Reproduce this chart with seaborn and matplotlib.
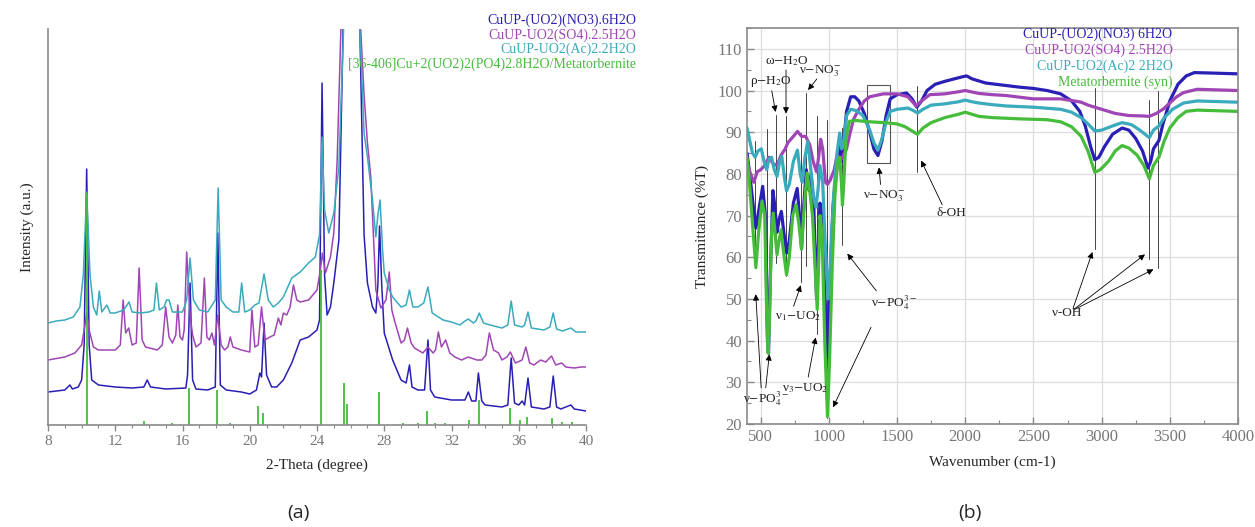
import matplotlib
matplotlib.use("Agg")
import matplotlib.pyplot as plt
import seaborn as sns
import pandas as pd
from matplotlib.patches import Rectangle
from matplotlib.ticker import MultipleLocator

# ---------------- (a) XRD data ----------------
xrd_no3_x = [8.0, 8.5, 9.0, 9.3, 9.45, 9.8, 10.0, 10.15, 10.3, 10.45, 10.6, 11.0, 12.0, 13.0, 13.7, 13.9, 14.1, 15.0,
             16.2, 16.3, 16.45, 16.6, 16.8, 17.5, 17.95, 18.1, 18.25, 18.6, 19.5, 20.0, 20.4, 20.6, 20.7, 20.85, 21.0,
             21.3, 21.6, 22.0, 22.5, 23.0, 23.5, 24.0, 24.15, 24.3, 24.45, 24.6, 24.8, 25.0, 25.3, 25.55, 26.05, 26.55,
             26.8, 27.0, 27.3, 27.5, 27.62, 27.72, 27.85, 28.0, 28.5, 29.0, 29.3, 29.5, 29.65, 30.0, 30.4, 30.6, 30.75,
             31.0, 32.0, 32.8, 33.0, 33.2, 33.45, 33.6, 33.8, 34.0, 35.0, 35.35, 35.55, 35.75, 36.0, 36.2, 36.35, 36.55,
             36.75, 37.5, 37.85, 38.05, 38.25, 38.5, 39.1, 39.3, 40.0]
xrd_no3_y = [33, 34, 35, 40, 36, 38, 45, 80, 256, 80, 45, 40, 38, 37, 38, 45, 38, 36,
             37, 50, 142, 45, 36, 35, 38, 192, 40, 35, 33, 31, 35, 52, 48, 102, 50,
             38, 38, 45, 62, 85, 88, 95, 105, 342, 150, 110, 118, 142, 185, 395, 700, 395,
             190, 142, 118, 112, 140, 199, 140, 92, 65, 45, 42, 60, 38, 35, 35, 85, 35,
             28, 25, 25, 33, 24, 24, 52, 24, 20, 18, 20, 67, 22, 20, 24, 20, 47,
             18, 16, 18, 49, 18, 16, 20, 16, 14]

xrd_so4_x = [8.0, 9.0, 9.6, 10.0, 10.2, 10.3, 10.45, 10.7, 11.0, 12.0, 12.3, 12.47, 12.62, 12.8, 13.0, 13.25, 13.42,
             13.6, 13.8, 14.5, 14.8, 15.0, 15.2, 15.4, 15.6, 15.72, 15.85, 16.0, 16.1, 16.25, 16.45, 16.6, 16.8, 17.1,
             17.3, 17.45, 17.6, 17.75, 17.9, 18.1, 18.3, 18.5, 18.7, 18.84, 19.0, 19.5, 20.0, 20.13, 20.3, 20.5, 20.7,
             20.9, 21.2, 21.45, 21.7, 21.85, 22.0, 22.2, 22.4, 22.6, 22.8, 23.0, 23.5, 24.0, 24.2, 24.32, 24.5, 24.8,
             25.0, 25.2, 25.42, 26.0, 26.6, 26.8, 27.0, 27.2, 27.5, 27.8, 28.1, 28.3, 28.45, 28.6, 29.0, 29.2, 29.38,
             29.6, 29.8, 30.3, 30.6, 30.9, 31.05, 31.22, 31.4, 31.65, 31.9, 32.2, 32.6, 33.0, 33.5, 33.8, 34.05, 34.25,
             34.5, 34.8, 35.0, 35.3, 35.5, 35.8, 36.2, 36.42, 36.65, 36.9, 37.3, 37.6, 37.95, 38.2, 38.55, 38.8, 39.3,
             39.7, 40.0]
xrd_so4_y = [65, 68, 72, 80, 100, 112, 95, 78, 75, 75, 80, 125, 92, 97, 80, 82, 157,
             85, 78, 75, 80, 118, 88, 82, 90, 120, 88, 85, 95, 173, 110, 90, 78, 82,
             147, 88, 85, 92, 80, 110, 80, 75, 78, 88, 78, 75, 73, 115, 78, 80, 118,
             85, 88, 90, 107, 100, 112, 110, 118, 140, 125, 123, 125, 135, 155, 172, 152, 168,
             192, 265, 395, 700, 395, 330, 282, 248, 135, 117, 125, 153, 115, 105, 82, 85, 97,
             82, 77, 72, 78, 72, 75, 93, 78, 85, 72, 68, 65, 68, 65, 65, 70, 92,
             75, 72, 65, 68, 73, 62, 65, 78, 62, 60, 65, 63, 69, 60, 62, 58, 57,
             58, 58]

xrd_ac_x = [8.0, 8.5, 9.0, 9.5, 9.9, 10.1, 10.3, 10.5, 10.7, 10.9, 11.05, 11.2, 11.5, 11.7, 12.0, 12.5, 12.82, 13.0,
            13.5, 14.0, 14.3, 14.45, 14.62, 14.9, 15.05, 15.2, 15.4, 16.0, 16.25, 16.45, 16.65, 17.0, 17.5, 17.95,
            18.12, 18.3, 18.6, 19.0, 19.35, 19.52, 19.7, 20.0, 20.3, 20.55, 20.85, 21.1, 21.4, 21.7, 22.0, 22.5, 23.0,
            23.5, 23.9, 24.15, 24.3, 24.45, 24.7, 25.0, 25.3, 25.58, 26.05, 26.55, 26.8, 27.0, 27.3, 27.5, 27.62,
            27.75, 27.9, 28.0, 28.3, 28.5, 29.0, 29.3, 29.5, 29.7, 30.0, 30.35, 30.6, 30.85, 31.5, 32.0, 32.5, 32.8,
            33.0, 33.3, 33.45, 33.65, 33.9, 34.3, 35.0, 35.35, 35.55, 35.75, 36.2, 36.35, 36.55, 36.75, 37.5, 37.85,
            38.05, 38.25, 38.6, 39.1, 39.4, 40.0]
xrd_ac_y = [102, 104, 105, 108, 118, 150, 233, 150, 118, 110, 134, 113, 120, 112, 112, 115, 123, 113,
            112, 113, 115, 142, 115, 118, 125, 125, 113, 113, 125, 167, 125, 115, 113, 125,
            237, 125, 118, 113, 113, 142, 113, 115, 120, 122, 151, 125, 118, 122, 128, 147, 153,
            162, 168, 190, 288, 215, 192, 212, 258, 395, 700, 395, 292, 268, 225, 188, 210,
            225, 175, 152, 135, 128, 118, 120, 135, 118, 118, 122, 138, 112, 105, 103, 100, 104,
            106, 102, 104, 112, 102, 100, 97, 100, 124, 100, 98, 100, 113, 97, 95, 98,
            112, 96, 94, 97, 93, 93]

ref_pos = [10.3, 13.72, 15.38, 16.38, 18.04, 18.82, 20.51, 20.79, 24.25, 25.62, 25.77, 27.66, 29.1, 29.98, 30.52,
           31.0, 31.6, 33.04, 33.63, 35.5, 36.05, 36.47, 37.98, 38.6, 39.15]
ref_int = [232, 4, 2, 37, 35, 2, 19, 12, 155, 42, 21, 33, 2, 2, 14, 2, 2, 5, 25, 17, 5, 8, 7, 3, 3]

xrd_labels = ["CuUP-(UO2)(NO3).6H2O", "CuUP-UO2(SO4).2.5H2O", "CuUP-UO2(Ac)2.2H2O",
              "[36-406]Cu+2(UO2)2(PO4)2.8H2O/Metatorbernite"]

# ---------------- (b) FTIR data ----------------
ir_no3_x = [400, 420, 440, 465, 490, 515, 535, 550, 558, 570, 590, 605, 620, 635, 652, 670, 690, 710, 740, 768, 785,
            800, 815, 835, 855, 870, 890, 910, 920, 935, 950, 970, 990, 1005, 1030, 1060, 1080, 1095, 1110, 1130, 1160,
            1190, 1220, 1260, 1300, 1330, 1360, 1390, 1420, 1450, 1500, 1570, 1610, 1645, 1680, 1720, 1780, 1850, 1920,
            1980, 2010, 2050, 2100, 2150, 2200, 2300, 2400, 2500, 2600, 2700, 2780, 2840, 2880, 2920, 2950, 2980, 3020,
            3080, 3150, 3200, 3250, 3300, 3340, 3360, 3380, 3420, 3450, 3500, 3560, 3620, 3680, 3800, 4000]
ir_no3_y = [85, 80, 74, 67, 72, 77, 70, 40, 37, 55, 76, 72, 66, 69, 71, 66, 61, 64, 73, 76.5, 70,
            62, 72, 81, 76, 80, 72, 50, 60, 73, 70, 52, 36, 50, 72, 82, 87, 83, 88, 95, 98.5,
            98.5, 97.5, 94.5, 90, 86, 84.4, 88, 94, 98, 99, 99.4, 98, 96, 97.5, 100, 101.5, 102.2, 102.8,
            103.3, 103.5, 102.8, 102.3, 101.8, 101.6, 101.2, 100.8, 100.5, 100, 99.2, 97.5, 95, 91.5, 86.5, 83.4, 84, 86.5,
            89.5, 91, 90.5, 88.5, 85.5, 81.4, 83, 86, 88, 92, 97.5, 101.5, 103.5, 104.3, 104.2, 104]

ir_so4_x = [400, 425, 450, 475, 500, 530, 560, 590, 620, 650, 680, 700, 740, 770, 800, 830, 860, 885, 910, 925, 940,
            955, 975, 990, 1010, 1040, 1060, 1080, 1100, 1130, 1150, 1180, 1220, 1260, 1300, 1400, 1500, 1580, 1640,
            1680, 1740, 1850, 1950, 2000, 2100, 2200, 2300, 2400, 2500, 2700, 2800, 2850, 2900, 3000, 3100, 3200, 3300,
            3350, 3400, 3450, 3500, 3550, 3600, 3700, 4000]
ir_so4_y = [83, 80, 78, 80.5, 81, 82, 84, 82.5, 82, 84.5, 86, 87.5, 89, 90.2, 89, 89, 87, 83, 80.5, 84, 88.3,
            86, 78, 77.5, 78.5, 81, 84.5, 83, 84, 86, 89, 93, 95.5, 97.5, 98.5, 99.2, 99.2, 98.5, 96.3,
            97.5, 99, 99.2, 99.7, 100, 99.3, 99, 98.8, 98.4, 98, 98, 97.5, 97.2, 96.5, 95.5, 94.5, 94, 93.9,
            93.8, 94.5, 95.5, 97, 98.5, 99.5, 100.3, 100]

ir_ac_x = [400, 420, 440, 460, 480, 505, 525, 545, 560, 580, 600, 620, 640, 655, 675, 690, 710, 740, 770, 790, 805,
           825, 845, 865, 890, 905, 920, 935, 955, 975, 995, 1010, 1035, 1060, 1080, 1095, 1110, 1130, 1160, 1200, 1250,
           1300, 1330, 1360, 1390, 1420, 1450, 1500, 1580, 1620, 1650, 1690, 1750, 1850, 1950, 2000, 2050, 2100, 2200,
           2300, 2500, 2700, 2780, 2850, 2900, 2950, 3000, 3080, 3150, 3220, 3280, 3350, 3380, 3420, 3460, 3520, 3600,
           3700, 4000]
ir_ac_y = [91, 88, 85, 84, 85.5, 86, 83, 81, 83.5, 84, 81, 79.4, 83, 84.2, 79, 75.9, 77.5, 83, 85.7, 80, 78,
           84, 87.8, 82, 74, 72, 76, 82, 78, 62, 50, 58, 75, 85, 89.8, 86, 88, 94, 95.5, 95.2, 94,
           90.5, 87.5, 85.7, 88.5, 92.5, 95, 95.5, 95.8, 95.2, 94.6, 95.5, 96.5, 96.8, 97.3, 97.7, 97.3, 97, 96.6,
           96.3, 96, 95.5, 94.8, 93.5, 92, 90.3, 90.5, 91.5, 92.3, 91.8, 90.5, 88.7, 90.5, 91.5, 93.5, 95.5, 97,
           97.5, 97.2]

ir_meta_x = [400, 420, 445, 465, 485, 510, 530, 545, 555, 565, 580, 592, 605, 620, 635, 650, 665, 690, 710, 735, 760,
             780, 800, 815, 840, 860, 880, 900, 915, 925, 935, 950, 970, 990, 1005, 1025, 1045, 1065, 1080, 1092, 1100,
             1110, 1125, 1150, 1200, 1300, 1400, 1500, 1560, 1600, 1650, 1690, 1750, 1850, 1950, 2000, 2050, 2100, 2200,
             2400, 2600, 2700, 2780, 2850, 2900, 2950, 2990, 3050, 3100, 3150, 3200, 3260, 3310, 3350, 3380, 3420, 3460,
             3500, 3560, 3620, 3700, 4000]
ir_meta_y = [84, 77, 66, 57.5, 66, 73.5, 70, 45, 37, 45, 66, 70.6, 66, 60.6, 64, 66.6, 62, 55.8, 60, 70, 72.6,
             68, 62, 70, 80.2, 76, 70, 57, 47.5, 58, 70, 66, 40, 21.8, 35, 58, 75, 83, 84, 78, 72.5,
             78, 88, 92.6, 92.8, 92.5, 92.3, 92, 91.3, 90.5, 89.5, 91, 92.3, 93.5, 94.3, 94.8, 94.3, 93.8, 93.5,
             93.2, 93, 92.5, 91.3, 89, 85.5, 80.4, 81, 83, 85.5, 86.8, 86.2, 84.5, 82, 78.8, 82, 84, 88,
             91, 93.5, 95, 95.3, 95]

ir_labels = ["CuUP-(UO2)(NO3) 6H2O", "CuUP-UO2(SO4) 2.5H2O", "CuUP-UO2(Ac)2 2H2O", "Metatorbernite (syn)"]

colors = ["#2a1fb4", "#a045b5", "#3aaabd", "#45bd3a"]

# ---------------- style ----------------
sns.set_style("white")
plt.rcParams["font.family"] = ["Liberation Serif", "DejaVu Serif"]
plt.rcParams["mathtext.fontset"] = "stix"

fig = plt.figure(figsize=(12.55, 5.27), dpi=100)
W, H = 1255.0, 527.0

# ================= panel (a) =================
ax1 = fig.add_axes([48 / W, 1 - 425 / H, (586 - 48) / W, (425 - 29) / H])
for (xs, ys), c in zip([(xrd_no3_x, xrd_no3_y), (xrd_so4_x, xrd_so4_y), (xrd_ac_x, xrd_ac_y)], colors[:3]):
    sns.lineplot(x=xs, y=ys, ax=ax1, color=c, lw=1.1, sort=False, estimator=None)
ax1.vlines(ref_pos, 0, ref_int, color=colors[3], lw=1.3)
ax1.set_xlim(8, 40)
ax1.set_ylim(0, 396)
ax1.set_xticks(range(8, 41, 4))
ax1.xaxis.set_minor_locator(MultipleLocator(1))
ax1.set_yticks([])
for s in ["top", "right"]:
    ax1.spines[s].set_visible(False)
for s in ["left", "bottom"]:
    ax1.spines[s].set_color("#8a8a8a")
    ax1.spines[s].set_linewidth(1.2)
ax1.tick_params(axis="x", which="major", direction="out", length=4, width=1, color="#8a8a8a",
                labelcolor="#777777", labelsize=11, bottom=True)
ax1.tick_params(axis="x", which="minor", direction="out", length=2.5, width=0.8, color="#8a8a8a", bottom=True)
ax1.set_xlabel("2-Theta (degree)", fontsize=11, labelpad=7)
ax1.set_ylabel("Intensity (a.u.)", fontsize=11, labelpad=10)

for i, (lab, c) in enumerate(zip(xrd_labels, colors)):
    fig.text(636 / W, 1 - (20 + i * 14.8) / H, lab, color=c, ha="right", va="center", fontsize=10)

# ================= panel (b) =================
ax2 = fig.add_axes([747 / W, 1 - 424 / H, (1238 - 747) / W, (424 - 28) / H])
for (xs, ys), c in zip([(ir_no3_x, ir_no3_y), (ir_so4_x, ir_so4_y), (ir_ac_x, ir_ac_y), (ir_meta_x, ir_meta_y)], colors):
    sns.lineplot(x=xs, y=ys, ax=ax2, color=c, lw=2.3, sort=False, estimator=None)
ax2.set_xlim(400, 4000)
ax2.set_ylim(20, 115)
ax2.set_xticks(range(500, 4001, 500))
ax2.set_yticks(range(20, 111, 10))
ax2.xaxis.set_minor_locator(MultipleLocator(250))
ax2.yaxis.set_minor_locator(MultipleLocator(5))
ax2.grid(True, which="major", color="#dedede", lw=0.9)
ax2.set_axisbelow(True)
for s in ax2.spines.values():
    s.set_color("#8a8a8a")
    s.set_linewidth(1.2)
ax2.tick_params(which="major", direction="in", length=5, width=1, color="#8a8a8a", labelcolor="#777777",
                labelsize=12, left=True, bottom=True)
ax2.tick_params(which="minor", direction="in", length=3, width=0.8, color="#8a8a8a", left=True, bottom=True)
ax2.set_xlabel("Wavenumber (cm-1)", fontsize=11, labelpad=8)
ax2.set_ylabel("Transmittance (%T)", fontsize=11, labelpad=6)

leg_y = [113.6, 109.7, 105.8, 101.9]
for lab, c, yy in zip(ir_labels, colors, leg_y):
    ax2.text(3520, yy, lab, color=c, ha="right", va="center", fontsize=10)

# vertical guide lines (wavenumber, top, bottom)
guides = [(457, 88, 57.5), (545, 90.8, 37), (613, 94.2, 58.6), (686, 93.8, 55.5), (797, 89.8, 54),
          (833, 99.5, 58), (910, 94, 41.5), (985, 93, 21.5), (1100, 91, 63), (1645, 101, 80.5),
          (2952, 100.6, 62), (3350, 97.8, 59.5), (3415, 99.8, 57.4)]
for gx, gt, gb in guides:
    ax2.plot([gx, gx], [gt, gb], color="#444444", lw=0.7, zorder=1)

ax2.add_patch(Rectangle((1280, 82.6), 167, 18.8, fill=False, ec="#555555", lw=0.8))

akw = dict(arrowstyle="-|>", color="black", lw=0.6, mutation_scale=9)
tk = dict(fontsize=9.5, ha="center", va="center", color="#222222")

ax2.text(572, 102.2, r"ρ$-$H$_2$O", **tk)
ax2.annotate("", xy=(613, 94.2), xytext=(578, 100.6), arrowprops=akw)
ax2.text(695, 107, r"ω$-$H$_2$O", **tk)
ax2.annotate("", xy=(686, 93.8), xytext=(686, 105.6), arrowprops=akw)
ax2.text(935, 104.6, r"ν$-$NO$_3^{-}$", **tk)
ax2.annotate("", xy=(835, 99.6), xytext=(925, 103.3), arrowprops=akw)
ax2.text(1404, 74.6, r"ν$-$NO$_3^{-}$", **tk)
ax2.annotate("", xy=(1366, 82.2), xytext=(1381, 76.8), arrowprops=akw)
ax2.text(1900, 70.6, "δ-OH", **tk)
ax2.annotate("", xy=(1668, 83.8), xytext=(1840, 72.0), arrowprops=akw)
ax2.text(1475, 49.2, r"ν$-$PO$_4^{3-}$", **tk)
ax2.annotate("", xy=(1123, 61.4), xytext=(1361, 51.4), arrowprops=akw)
ax2.annotate("", xy=(1022, 23.4), xytext=(1318, 43.8), arrowprops=akw)
ax2.text(773, 45.9, r"ν$_1$$-$UO$_2$", **tk)
ax2.annotate("", xy=(801, 53.9), xytext=(735, 47.6), arrowprops=akw)
ax2.text(830, 28.7, r"ν$_3$$-$UO$_2$", **tk)
ax2.annotate("", xy=(907, 41.4), xytext=(845, 30.6), arrowprops=akw)
ax2.text(540, 26.2, r"ν$-$PO$_4^{3-}$", **tk)
ax2.annotate("", xy=(463, 51.8), xytext=(505, 28.0), arrowprops=akw)
ax2.annotate("", xy=(566, 37.4), xytext=(535, 28.0), arrowprops=akw)
ax2.text(2746, 46.6, "ν-OH", **tk)
for hx, hy in [(2939, 61.9), (3334, 61.1), (3398, 57.4)]:
    ax2.annotate("", xy=(hx, hy), xytext=(2785, 47.2), arrowprops=akw)

# captions
fig.text(298 / W, 1 - 513 / H, "(a)", ha="center", va="center", fontsize=14, family=["Open Sans", "DejaVu Sans"])
fig.text(970 / W, 1 - 513 / H, "(b)", ha="center", va="center", fontsize=14, family=["Open Sans", "DejaVu Sans"])

fig.savefig("out.png", dpi=100)
